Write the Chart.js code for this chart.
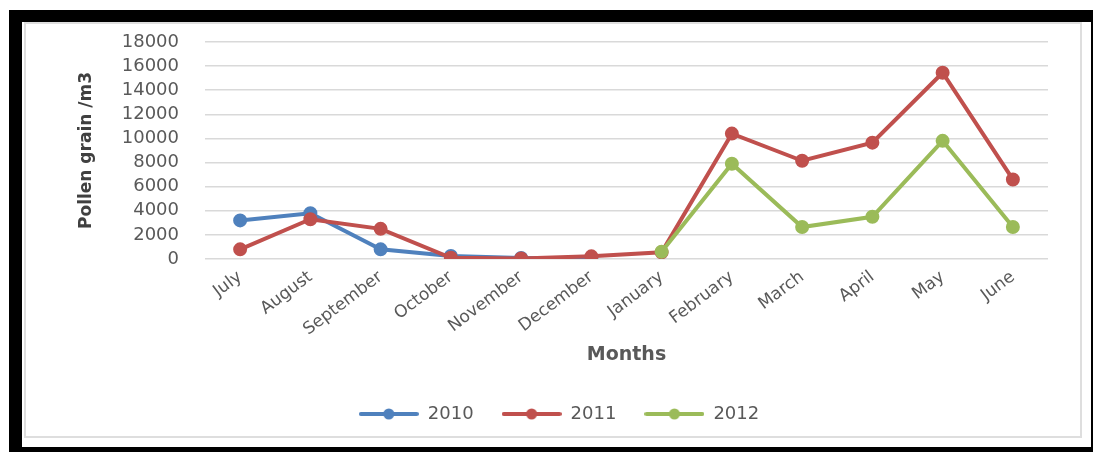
<!DOCTYPE html>
<html>
<head>
<meta charset="utf-8">
<script src="https://cdn.jsdelivr.net/npm/chart.js@4/dist/chart.umd.min.js"></script>
<style>
  html, body { margin: 0; padding: 0; background: #ffffff; width: 1093px; height: 452px; overflow: hidden; }
  #outer { position: absolute; left: 9px; top: 10px; width: 1069px; height: 425px;
           border-style: solid; border-color: #000; border-width: 12px 2px 5px 13px; background: #fff; }
  #inner { position: absolute; left: 24px; top: 22px; width: 1058px; height: 416px;
           border: 2px solid #dedede; box-sizing: border-box; }
  #c { position: absolute; left: 0; top: 0; }
</style>
</head>
<body>
<div id="outer"></div>
<div id="inner"></div>
<canvas id="c" width="1093" height="452"></canvas>
<script>
const months = ['July','August','September','October','November','December','January','February','March','April','May','June'];
const seriesNames = ['2010','2011','2012'];
const values2010 = [3200, 3800, 800, 250, 80, 30, null, null, null, null, null, null];
const values2011 = [800, 3300, 2500, 100, 50, 220, 550, 10400, 8150, 9650, 15450, 6600];
const values2012 = [null, null, null, null, null, null, 600, 7900, 2650, 3500, 9800, 2650];
const yTicks = [0, 2000, 4000, 6000, 8000, 10000, 12000, 14000, 16000, 18000];
const colors = ['#4F81BD', '#C0504D', '#9BBB59'];

function legendImg(color) {
  const cv = document.createElement('canvas');
  cv.width = 60; cv.height = 14;
  const g = cv.getContext('2d');
  g.strokeStyle = color; g.lineWidth = 4; g.lineCap = 'round';
  g.beginPath(); g.moveTo(2, 7); g.lineTo(58, 7); g.stroke();
  g.fillStyle = color; g.beginPath(); g.arc(30, 7, 5.5, 0, Math.PI * 2); g.fill();
  return cv;
}

const allValues = [values2010, values2011, values2012];
const datasets = allValues.map((vals, i) => ({
  label: seriesNames[i],
  data: vals,
  borderColor: colors[i],
  backgroundColor: colors[i],
  borderWidth: 4,
  pointRadius: 5,
  pointHoverRadius: 5,
  pointBackgroundColor: colors[i],
  pointBorderColor: colors[i],
  tension: 0,
  spanGaps: false,
  order: 3 - i
}));

new Chart(document.getElementById('c'), {
  type: 'line',
  data: { labels: months, datasets: datasets },
  options: {
    responsive: false,
    animation: false,
    events: [],
    layout: { padding: { left: 70, right: 45, top: 42, bottom: 19 } },
    plugins: {
      tooltip: { enabled: false },
      legend: {
        position: 'bottom',
        labels: {
          usePointStyle: true,
          pointStyleWidth: 60,
          padding: 28,
          color: '#595959',
          font: { family: 'DejaVu Sans', size: 18 },
          generateLabels: (chart) => chart.data.datasets.map((ds, i) => ({
            text: ds.label,
            pointStyle: legendImg(colors[i]),
            fillStyle: colors[i],
            strokeStyle: colors[i],
            lineWidth: 0,
            fontColor: '#595959',
            datasetIndex: i,
            hidden: false
          }))
        }
      }
    },
    scales: {
      x: {
        offset: true,
        grid: { display: false, drawTicks: false },
        border: { display: false },
        ticks: {
          autoSkip: false, minRotation: 37, maxRotation: 37, padding: 8,
          color: '#595959', font: { family: 'DejaVu Sans', size: 17 }
        },
        title: {
          display: true, text: 'Months', color: '#595959',
          font: { family: 'DejaVu Sans', size: 19, weight: 'bold' },
          padding: { top: 8, bottom: 11 }
        },
        afterFit: (s) => { s.height = 118; }
      },
      y: {
        min: 0, max: 18000,
        afterBuildTicks: (s) => { s.ticks = yTicks.map(v => ({ value: v })); },
        grid: { color: '#d9d9d9', lineWidth: 1.5, drawTicks: false },
        border: { display: false },
        ticks: {
          autoSkip: false,
          padding: 26, color: '#595959',
          font: { family: 'DejaVu Sans', size: 18 },
          callback: (v) => String(v)
        },
        title: {
          display: true, text: 'Pollen grain /m3', color: '#404040',
          font: { family: 'DejaVu Sans', size: 17, weight: 'bold' },
          padding: { top: 6, bottom: 0 }
        },
        afterFit: (s) => { s.width = 135; }
      }
    }
  }
});
</script>
</body>
</html>
